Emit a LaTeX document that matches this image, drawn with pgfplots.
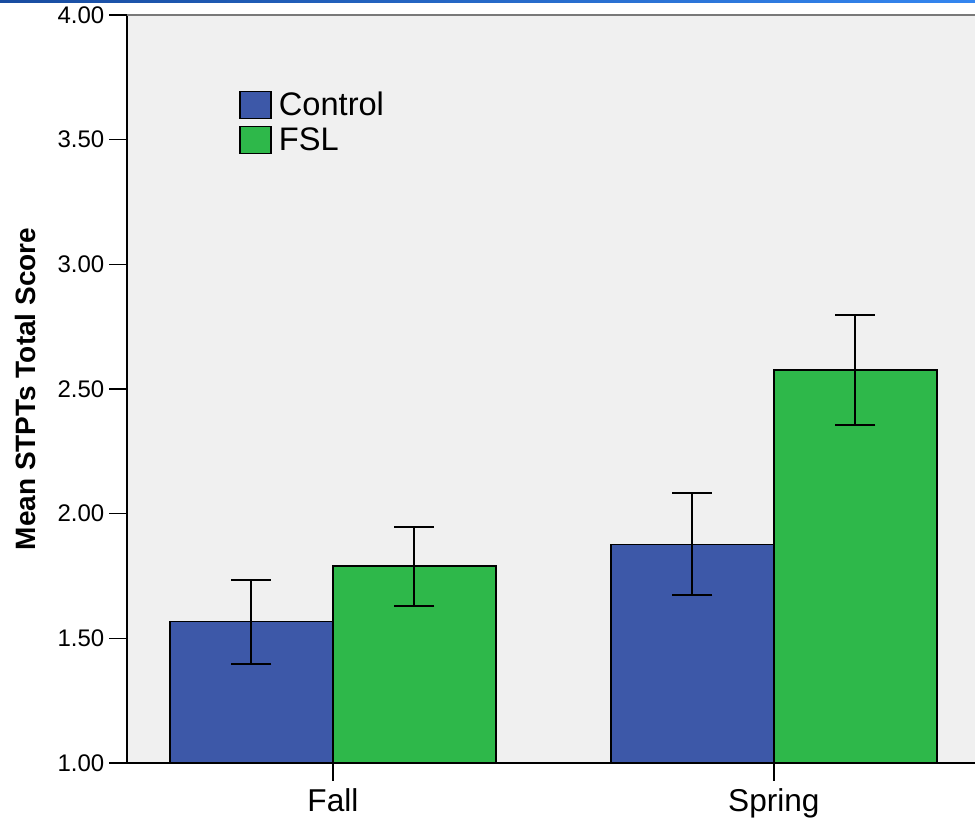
\documentclass[border=0pt]{standalone}
\usepackage{pgfplots}
\pgfplotsset{compat=1.18}
\usepackage{fontspec}
\setmainfont{Liberation Sans}
\definecolor{ctrl}{RGB}{61,88,168}
\definecolor{fsl}{RGB}{46,184,74}
\definecolor{bg}{RGB}{240,240,240}
\definecolor{topblueA}{RGB}{24,76,160}
\definecolor{topblueB}{RGB}{52,134,240}
\begin{document}
\begin{tikzpicture}
\begin{axis}[
  scale only axis,
  width=424pt, height=374pt,
  xmin=-0.467, xmax=1.456,
  ymin=1, ymax=4,
  axis background/.style={fill=bg},
  axis x line=box, axis y line=left,
  y axis line style={-, black, line width=0.8pt},
  x axis line style={black, line width=0.8pt},
  ybar=0pt, bar width=81.5pt,
  xtick={0,1}, xticklabels={Fall,Spring},
  ytick={1,1.5,2,2.5,3,3.5,4},
  yticklabel style={/pgf/number format/fixed, /pgf/number format/fixed zerofill, /pgf/number format/precision=2},
  /pgf/number format/assume math mode=true,
  tick align=outside,
  major tick length=8.8pt,
  tick style={black, line width=0.8pt},
  xtick pos=bottom, ytick pos=left,
  x tick label style={font=\fontsize{15.8pt}{18pt}\selectfont, yshift=-0.5pt},
  y tick label style={font=\fontsize{12pt}{14pt}\selectfont, xshift=1pt},
  ylabel={\textbf{Mean STPTs Total Score}},
  every axis y label/.style={at={(rel axis cs:0,0.5)}, rotate=90, anchor=center, yshift=51pt,
    font=\fontsize{14pt}{16pt}\selectfont},
  legend style={at={(rel axis cs:0.125,0.909)}, anchor=north west, draw=none, fill=none,
    font=\fontsize{16.3pt}{18pt}\selectfont, row sep=0.6pt},
  legend cell align=left,
  legend image code/.code={\draw[#1, draw=black, line width=0.7pt] (0pt,-6.75pt) rectangle (15.5pt,6.75pt);\path (17pt,0pt);},
  clip=false,
]
\addplot[fill=ctrl, draw=black, line width=0.8pt,
  error bars/.cd, y dir=both, y explicit,
  error bar style={black, line width=1pt},
  error mark options={rotate=90, black, line width=1pt, mark size=10pt}]
  coordinates {(0,1.567) +- (0,0.168) (1,1.877) +- (0,0.205)};
\addlegendentry{Control}
\addplot[fill=fsl, draw=black, line width=0.8pt,
  error bars/.cd, y dir=both, y explicit,
  error bar style={black, line width=1pt},
  error mark options={rotate=90, black, line width=1pt, mark size=10pt}]
  coordinates {(0,1.789) +- (0,0.158) (1,2.576) +- (0,0.219)};
\addlegendentry{FSL}
\draw[draw=gray!95!black, line width=1.1pt] (rel axis cs:0,1) -- (rel axis cs:1,1);
\coordinate (BL) at (rel axis cs:0,0);
\coordinate (TL) at (rel axis cs:0,1);
\coordinate (TR) at (rel axis cs:1,1);
\end{axis}
\pgfresetboundingbox
\path[use as bounding box] ([xshift=-63.5pt,yshift=-28pt]BL) rectangle ([yshift=7.5pt]TR);
\shade[left color=topblueA, right color=topblueB] ([xshift=-63.5pt,yshift=6pt]TL) rectangle ([yshift=7.5pt]TR);
\end{tikzpicture}
\end{document}
